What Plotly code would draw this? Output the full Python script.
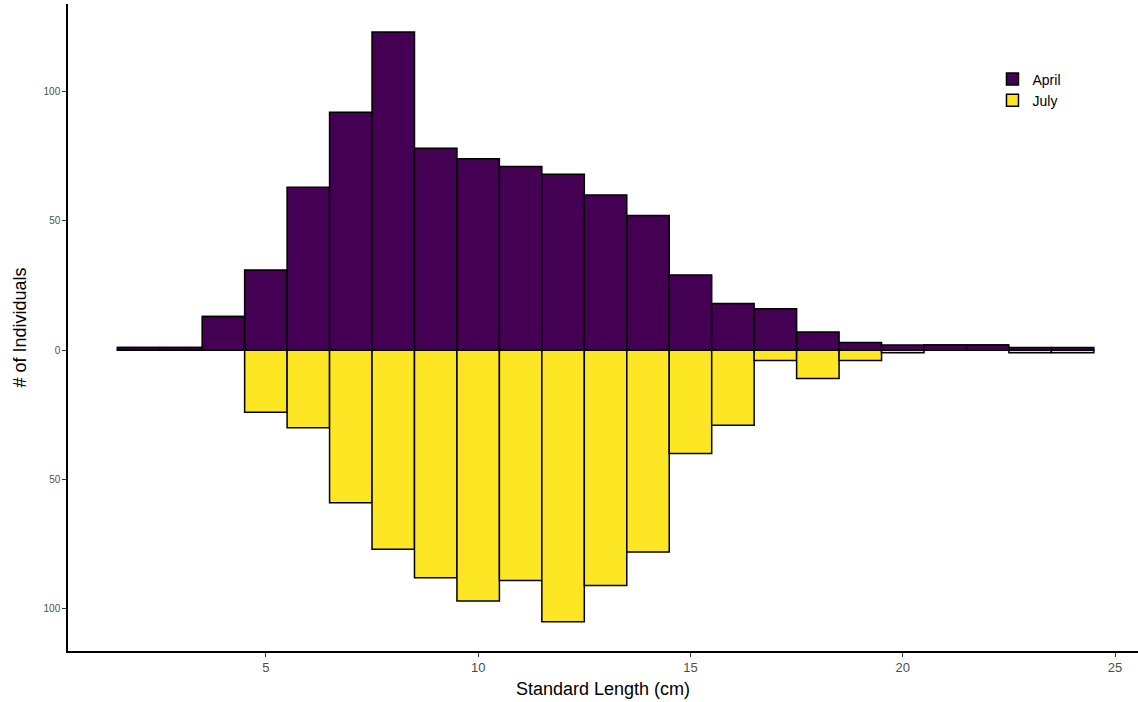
import plotly.graph_objects as go

bin_centers = [2, 3, 4, 5, 6, 7, 8, 9, 10, 11, 12, 13, 14, 15, 16, 17, 18, 19, 20, 21, 22, 23, 24]
april_counts = [1, 1, 13, 31, 63, 92, 123, 78, 74, 71, 68, 60, 52, 29, 18, 16, 7, 3, 2, 2, 2, 1, 1]
july_counts = [0, 0, 0, 24, 30, 59, 77, 88, 97, 89, 105, 91, 78, 40, 29, 4, 11, 4, 1, 0, 0, 1, 1]
y_tick_vals = [-100, -50, 0, 50, 100]
y_tick_text = ["100", "50", "0", "50", "100"]
x_tick_vals = [5, 10, 15, 20, 25]

fig = go.Figure()
fig.add_trace(go.Bar(
    x=bin_centers, y=april_counts, name="April", width=1,
    marker=dict(color="#440154", line=dict(color="black", width=1.5)),
))
fig.add_trace(go.Bar(
    x=bin_centers, y=[-v for v in july_counts], name="July", width=1,
    marker=dict(color="#FDE725", line=dict(color="black", width=1.5)),
))

fig.update_layout(
    width=1138, height=702,
    barmode="relative",
    plot_bgcolor="white", paper_bgcolor="white",
    margin=dict(l=68, r=0, t=4, b=51),
    font=dict(family="Liberation Sans, Arial, sans-serif", color="black"),
    showlegend=True,
    legend=dict(
        x=0.864, y=0.908, xanchor="left", yanchor="top",
        font=dict(size=14, color="black"),
        tracegroupgap=0, itemwidth=30,
        bgcolor="rgba(0,0,0,0)",
    ),
    xaxis=dict(
        range=[0.34, 25.54],
        tickvals=x_tick_vals,
        showline=True, linecolor="black", linewidth=1.5,
        ticks="outside", ticklen=4, tickcolor="#333333", tickwidth=1.2,
        tickfont=dict(size=13, color="#4D4D4D"),
        showgrid=False, zeroline=False, automargin=False,
        title=dict(text="Standard Length (cm)", font=dict(size=18, color="black"), standoff=8),
    ),
    yaxis=dict(
        range=[-116.3, 133.8],
        tickvals=y_tick_vals, ticktext=y_tick_text,
        showline=True, linecolor="black", linewidth=1.5,
        ticks="outside", ticklen=4, tickcolor="#333333", tickwidth=1.2,
        tickfont=dict(size=10, color="#4D4D4D"),
        showgrid=False, zeroline=False, automargin=False,
        title=dict(text="# of Individuals", font=dict(size=18, color="black"), standoff=12),
    ),
)

fig.write_html("out.html", config={"displayModeBar": False},
               post_script="document.body.style.margin='0';")
